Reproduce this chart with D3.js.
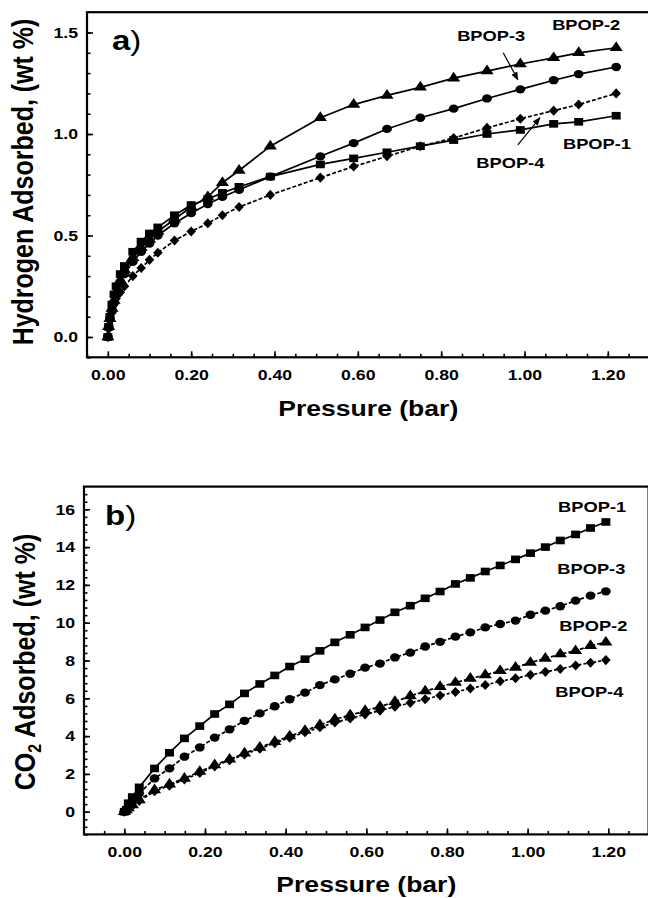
<!DOCTYPE html>
<html>
<head>
<meta charset="utf-8">
<script src="https://cdn.jsdelivr.net/npm/d3@7"></script>
<style>
  body { margin: 0; background: #fff; }
</style>
</head>
<body>
<div id="chart"></div>
<script>
var w = 648;
var h = 898;
var stretch = 1.18; // the original figure is a little wider than it is tall
var font = "'Liberation Sans', Arial, Helvetica, sans-serif";

// ---- panel a: hydrogen ----
var h2Pressure = [0, 0.002, 0.005, 0.01, 0.015, 0.02, 0.03, 0.04, 0.06, 0.08, 0.10, 0.12, 0.16, 0.20,
  0.24, 0.275, 0.315, 0.39, 0.51, 0.59, 0.67, 0.75, 0.83, 0.91, 0.99, 1.07, 1.13, 1.22];
var h2Bpop1 = [0, 0.05, 0.10, 0.16, 0.21, 0.25, 0.31, 0.35, 0.42, 0.47, 0.51, 0.54, 0.60, 0.65,
  0.68, 0.71, 0.74, 0.79, 0.85, 0.88, 0.91, 0.94, 0.97, 1.00, 1.02, 1.05, 1.06, 1.09];
var h2Bpop2 = [0, 0.05, 0.09, 0.14, 0.18, 0.22, 0.28, 0.33, 0.39, 0.44, 0.48, 0.52, 0.58, 0.64,
  0.69, 0.76, 0.82, 0.94, 1.08, 1.145, 1.19, 1.23, 1.275, 1.31, 1.345, 1.375, 1.40, 1.425];
var h2Bpop3 = [0, 0.05, 0.09, 0.13, 0.17, 0.21, 0.27, 0.31, 0.37, 0.42, 0.46, 0.50, 0.56, 0.61,
  0.655, 0.69, 0.725, 0.79, 0.89, 0.955, 1.025, 1.08, 1.125, 1.175, 1.22, 1.265, 1.295, 1.33];
var h2Bpop4 = [0, 0.04, 0.08, 0.12, 0.16, 0.19, 0.22, 0.25, 0.30, 0.34, 0.38, 0.415, 0.475, 0.52,
  0.56, 0.60, 0.64, 0.70, 0.785, 0.84, 0.89, 0.94, 0.98, 1.03, 1.075, 1.115, 1.145, 1.20];
var h2XTicks = [0, 0.2, 0.4, 0.6, 0.8, 1.0, 1.2];
var h2YTicks = [0, 0.5, 1.0, 1.5];

// ---- panel b: CO2 ----
var co2Pressure = [0, 0.005, 0.01, 0.02, 0.037, 0.075, 0.112, 0.149, 0.187, 0.224, 0.261, 0.298,
  0.336, 0.373, 0.410, 0.448, 0.485, 0.522, 0.560, 0.597, 0.634, 0.671, 0.709, 0.746, 0.783,
  0.821, 0.858, 0.895, 0.932, 0.970, 1.007, 1.044, 1.081, 1.119, 1.156, 1.194];
var co2Bpop1 = [0, 0.10, 0.45, 0.78, 1.29, 2.29, 3.12, 3.88, 4.53, 5.17, 5.68, 6.26, 6.76, 7.21,
  7.68, 8.07, 8.51, 8.96, 9.36, 9.75, 10.14, 10.55, 10.90, 11.29, 11.65, 12.05, 12.37, 12.71,
  13.03, 13.35, 13.68, 14.00, 14.35, 14.67, 15.01, 15.33];
var co2Bpop2 = [0, 0.09, 0.20, 0.35, 0.62, 1.15, 1.45, 1.76, 2.12, 2.47, 2.77, 3.09, 3.40, 3.70,
  4.00, 4.29, 4.59, 4.89, 5.11, 5.34, 5.56, 5.82, 6.12, 6.38, 6.61, 6.83, 7.05, 7.23, 7.45,
  7.63, 7.89, 8.11, 8.34, 8.51, 8.78, 8.96];
var co2Bpop3 = [0, 0.08, 0.26, 0.55, 0.97, 1.76, 2.29, 2.91, 3.40, 3.92, 4.36, 4.81, 5.20, 5.58,
  5.95, 6.30, 6.70, 7.00, 7.30, 7.62, 7.84, 8.16, 8.42, 8.74, 8.99, 9.26, 9.49, 9.75, 9.93,
  10.11, 10.42, 10.64, 10.87, 11.17, 11.43, 11.66];
var co2Bpop4 = [0, 0.07, 0.18, 0.32, 0.57, 1.08, 1.38, 1.70, 2.05, 2.40, 2.72, 3.03, 3.33, 3.63,
  3.92, 4.20, 4.47, 4.72, 4.93, 5.15, 5.35, 5.55, 5.76, 5.95, 6.15, 6.33, 6.52, 6.70, 6.90,
  7.06, 7.24, 7.40, 7.55, 7.74, 7.88, 8.02];
var co2XTicks = [0, 0.2, 0.4, 0.6, 0.8, 1.0, 1.2];
var co2YTicks = [0, 2, 4, 6, 8, 10, 12, 14, 16];

var seriesNames = ["BPOP-1", "BPOP-2", "BPOP-3", "BPOP-4"];

// diamond a bit wider than d3's own
var diamond = {
  draw: function (ctx, size) {
    var hh = Math.sqrt(size) * 0.62, hw = hh * 0.8;
    ctx.moveTo(0, -hh);
    ctx.lineTo(hw, 0);
    ctx.lineTo(0, hh);
    ctx.lineTo(-hw, 0);
    ctx.closePath();
  }
};
var symbolTypes = [d3.symbolSquare, d3.symbolTriangle, d3.symbolCircle, diamond];
var symbolSizes = [58, 54, 54, 66];

var svg = d3.select("#chart").append("svg").attr("width", w).attr("height", h);

svg.append("defs").append("marker")
  .attr("id", "arrow")
  .attr("viewBox", "0 0 10 10")
  .attr("refX", 9)
  .attr("refY", 5)
  .attr("markerWidth", 7)
  .attr("markerHeight", 7)
  .attr("orient", "auto")
  .append("path")
  .attr("d", "M0,1L10,5L0,9z")
  .attr("fill", "black");

function addText(g, x, y, txt, size, anchor, weight) {
  return g.append("text")
    .attr("transform", "translate(" + x + "," + y + ") scale(" + stretch + ",1)")
    .attr("font-family", font)
    .attr("font-size", size)
    .attr("font-weight", weight || "bold")
    .attr("text-anchor", anchor || "middle")
    .text(txt);
}

function styleAxis(sel, size) {
  sel.select(".domain").remove();
  sel.selectAll(".tick line").attr("stroke", "black").attr("stroke-width", 1.6);
  sel.selectAll("text")
    .attr("font-family", font)
    .attr("font-size", size)
    .attr("font-weight", "bold")
    .attr("fill", "black")
    .attr("transform", "scale(" + stretch + ",1)");
}

function drawPanel(cfg) {
  var g = svg.append("g");
  var x = d3.scaleLinear().domain(cfg.xDomain).range([cfg.left, cfg.right]);
  var y = d3.scaleLinear().domain(cfg.yDomain).range([cfg.bottom, cfg.top]);

  // minor ticks
  g.append("g")
    .attr("transform", "translate(0," + cfg.bottom + ")")
    .call(d3.axisBottom(x).tickValues(cfg.xMinor).tickSize(-3.5).tickFormat(""))
    .call(styleAxis, 15);
  g.append("g")
    .attr("transform", "translate(" + cfg.left + ",0)")
    .call(d3.axisLeft(y).tickValues(cfg.yMinor).tickSize(-3.5).tickFormat(""))
    .call(styleAxis, 15);

  // major ticks with labels
  g.append("g")
    .attr("transform", "translate(0," + cfg.bottom + ")")
    .call(d3.axisBottom(x).tickValues(cfg.xTicks).tickSize(-6).tickPadding(12).tickFormat(d3.format(".2f")))
    .call(styleAxis, 15);
  g.append("g")
    .attr("transform", "translate(" + cfg.left + ",0)")
    .call(d3.axisLeft(y).tickValues(cfg.yTicks).tickSize(-6).tickPadding(7.6).tickFormat(d3.format(cfg.yFormat)))
    .call(styleAxis, 15);

  // frame
  g.append("rect")
    .attr("x", cfg.left)
    .attr("y", cfg.top)
    .attr("width", cfg.right - cfg.left)
    .attr("height", cfg.bottom - cfg.top)
    .attr("fill", "none")
    .attr("stroke", "black")
    .attr("stroke-width", 2.2);

  var line = d3.line()
    .x(function (d) { return x(d[0]); })
    .y(function (d) { return y(d[1]); });

  cfg.series.forEach(function (vals, i) {
    var pts = cfg.pressure.map(function (p, j) { return [p, vals[j]]; });
    g.append("path")
      .datum(pts)
      .attr("d", line)
      .attr("fill", "none")
      .attr("stroke", "black")
      .attr("stroke-width", 1.7)
      .attr("stroke-dasharray", cfg.dashes[i]);
    g.selectAll(".m" + i)
      .data(pts)
      .enter()
      .append("path")
      .attr("class", "m" + i)
      .attr("d", d3.symbol().type(symbolTypes[i]).size(symbolSizes[i]))
      .attr("transform", function (d) {
        return "translate(" + x(d[0]) + "," + y(d[1]) + ") scale(" + stretch + ",1)";
      })
      .attr("fill", "black");
  });

  // series names
  cfg.labels.forEach(function (l) {
    addText(g, x(l.x), y(l.y), seriesNames[l.s], 15.5);
  });
  (cfg.arrows || []).forEach(function (a) {
    g.append("line")
      .attr("x1", x(a[0])).attr("y1", y(a[1]))
      .attr("x2", x(a[2])).attr("y2", y(a[3]))
      .attr("stroke", "black")
      .attr("stroke-width", 1.2)
      .attr("marker-end", "url(#arrow)");
  });

  // panel letter: bold letter, plain bracket
  var pl = addText(g, cfg.letterX, cfg.letterY, "", 28, "start");
  pl.append("tspan").text(cfg.letter);
  pl.append("tspan").attr("font-weight", "normal").text(")");

  // axis titles
  addText(g, (cfg.left + cfg.right) / 2, cfg.xTitleY, "Pressure (bar)", 22.5);
  var yt = g.append("text")
    .attr("transform", "translate(" + cfg.yTitleX + "," + cfg.yTitleY + ") scale(" + stretch + ",1) rotate(-90)")
    .attr("font-family", font)
    .attr("font-size", 25)
    .attr("font-weight", "bold")
    .attr("text-anchor", "middle");
  cfg.yTitle(yt);
}

drawPanel({
  xDomain: [-0.05, 1.3], yDomain: [-0.1, 1.6],
  left: 87, right: 649.5, top: 12.2, bottom: 357.3,
  xTicks: h2XTicks, yTicks: h2YTicks, yFormat: ".1f",
  xMinor: d3.range(-1, 26).map(function (k) { return k * 0.05; }),
  yMinor: d3.range(-1, 16).map(function (k) { return k * 0.1; }),
  pressure: h2Pressure,
  series: [h2Bpop1, h2Bpop2, h2Bpop3, h2Bpop4],
  dashes: [null, null, null, "4,2"],
  labels: [
    { s: 1, x: 1.148, y: 1.514 },
    { s: 2, x: 0.92, y: 1.46 },
    { s: 0, x: 1.174, y: 0.927 },
    { s: 3, x: 0.966, y: 0.834 }
  ],
  arrows: [[0.949, 1.40, 0.984, 1.267], [0.984, 0.947, 1.037, 1.08]],
  letter: "a", letterX: 112, letterY: 50,
  xTitleY: 416,
  yTitleX: 33, yTitleY: 182,
  yTitle: function (t) { t.text("Hydrogen Adsorbed, (wt %)"); }
});

drawPanel({
  xDomain: [-0.1, 1.3], yDomain: [-1.2, 17.2],
  left: 84, right: 648.6, top: 486.6, bottom: 834.4,
  xTicks: co2XTicks, yTicks: co2YTicks, yFormat: "d",
  xMinor: d3.range(-1, 26).map(function (k) { return k * 0.05; }),
  yMinor: d3.range(-3, 43).map(function (k) { return k * 0.4; }),
  pressure: co2Pressure,
  series: [co2Bpop1, co2Bpop2, co2Bpop3, co2Bpop4],
  dashes: [null, "4,2", "4,2", "3,2"],
  labels: [
    { s: 0, x: 1.16, y: 15.86 },
    { s: 2, x: 1.158, y: 12.58 },
    { s: 1, x: 1.163, y: 9.57 },
    { s: 3, x: 1.153, y: 6.07 }
  ],
  letter: "b", letterX: 105, letterY: 525,
  xTitleY: 892,
  yTitleX: 35, yTitleY: 662,
  yTitle: function (t) {
    t.append("tspan").text("CO");
    t.append("tspan").attr("font-size", 16).attr("dy", 5).text("2");
    t.append("tspan").attr("dy", -5).text(" Adsorbed, (wt %)");
  }
});
</script>
</body>
</html>
